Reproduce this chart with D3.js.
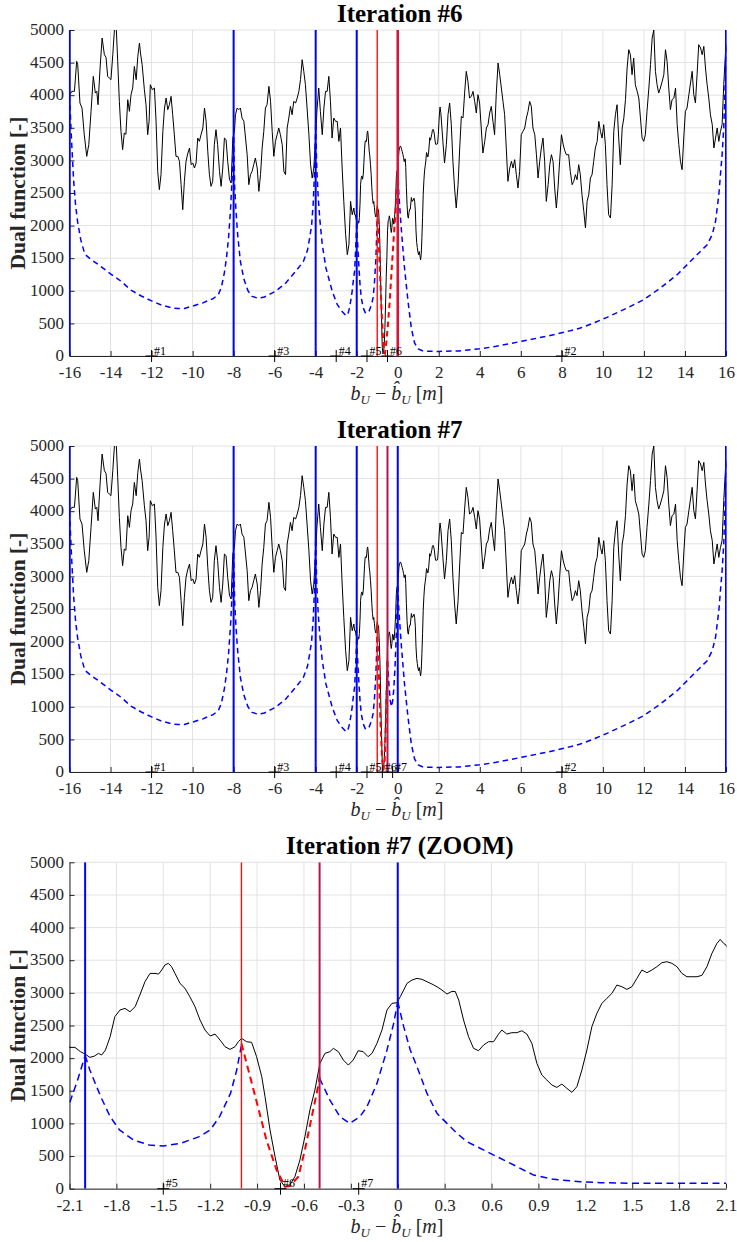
<!DOCTYPE html>
<html><head><meta charset="utf-8">
<script src="https://cdn.jsdelivr.net/npm/d3@7"></script>
<style>
html,body{margin:0;padding:0;background:#fff;}
svg{display:block;}
</style></head><body>
<svg id="chart" width="737" height="1242" font-family="Liberation Serif"></svg>
<script>
// ---- axis ticks ----
const yTicks = [0, 500, 1000, 1500, 2000, 2500, 3000, 3500, 4000, 4500, 5000];
const xTicksWide = [-16, -14, -12, -10, -8, -6, -4, -2, 0, 2, 4, 6, 8, 10, 12, 14, 16];
const xTicksZoom = [-2.1, -1.8, -1.5, -1.2, -0.9, -0.6, -0.3, 0, 0.3, 0.6, 0.9, 1.2, 1.5, 1.8, 2.1];

// ---- dual function, coarse samples left of the zoom window ----
const dualLeft = [
  [-16,4008],[-15.98,4008],[-15.89,4059],[-15.76,4060],[-15.65,4519],[-15.6,4470],[-15.49,3880],[-15.39,3803],
  [-15.28,3394],[-15.16,3062],[-15.06,3241],[-14.95,3752],[-14.84,4289],[-14.74,4033],[-14.67,4060],[-14.61,3854],
  [-14.51,4417],[-14.41,4877],[-14.3,4621],[-14.22,4580],[-14.14,4289],[-14.06,4263],[-13.98,4238],[-13.89,4621],
  [-13.79,5100],[-13.73,5100],[-13.65,4519],[-13.57,3905],[-13.49,3445],[-13.41,3164],[-13.33,3420],[-13.25,3400],
  [-13.16,3931],[-13.08,3752],[-13.0,4008],[-12.92,4110],[-12.84,4442],[-12.75,4238],[-12.67,4596],[-12.59,4800],
  [-12.54,4647],[-12.46,4468],[-12.35,4084],[-12.27,3854],[-12.19,3394],[-12.12,3599],[-12.06,4161],[-11.96,4084],
  [-11.86,4110],[-11.78,3599],[-11.7,2832],[-11.62,2551],[-11.54,2781],[-11.45,3445],[-11.37,3803],[-11.29,3957],
  [-11.21,3778],[-11.13,3854],[-11.05,3982],[-10.97,3701],[-10.89,3394],[-10.81,3062],[-10.72,3062],[-10.64,2985],
  [-10.56,2628],[-10.48,2244],[-10.4,2679],[-10.32,2985],[-10.23,3113],[-10.15,3190],[-10.07,2934],[-9.99,2960],
  [-9.91,2883],[-9.83,2960],[-9.75,3343],[-9.67,3292],[-9.59,3394],[-9.5,3497],[-9.42,3803],[-9.34,3599],
  [-9.26,3139],[-9.18,2781],[-9.1,2602],[-9.02,2679],[-8.94,3241],[-8.86,3471],[-8.78,3241],[-8.69,2832],
  [-8.61,2602],[-8.53,2883],[-8.45,3343],[-8.37,3318],[-8.29,2985],[-8.2,2704],[-8.12,2653],[-8.04,3343],
  [-7.96,3445],[-7.91,3701],[-7.83,3803],[-7.75,3778],[-7.67,3803],[-7.59,3650],[-7.5,3599],[-7.42,3343],
  [-7.34,3088],[-7.26,2628],[-7.18,2781],[-7.1,2832],[-7.02,2934],[-6.94,3036],[-6.85,2883],[-6.77,2525],
  [-6.69,2781],[-6.61,3190],[-6.53,3445],[-6.45,3803],[-6.37,3854],[-6.28,4136],[-6.2,3905],[-6.12,3445],
  [-6.04,3062],[-5.96,3292],[-5.88,3394],[-5.8,3497],[-5.72,3394],[-5.63,3241],[-5.55,2832],[-5.47,2781],
  [-5.39,3497],[-5.31,3650],[-5.23,3829],[-5.15,3701],[-5.07,3905],[-4.98,3880],[-4.9,3957],[-4.82,4059],
  [-4.74,4238],[-4.66,4545],[-4.58,4366],[-4.5,4161],[-4.42,3803],[-4.33,3394],[-4.25,2934],[-4.17,2730],
  [-4.09,2883],[-4.01,3343],[-3.93,3803],[-3.85,4110],[-3.77,3752],[-3.68,3394],[-3.6,3803],[-3.52,4059],
  [-3.44,4059],[-3.36,4289],[-3.28,3905],[-3.2,3343],[-3.12,3650],[-3.03,3599],[-2.95,3599],[-2.87,3292],
  [-2.79,3497],[-2.71,2883],[-2.63,2372],[-2.54,1861],[-2.46,1554],[-2.38,1707],[-2.3,2372],[-2.22,2167],
  [-2.14,2270]
];

// ---- dual function, fine samples on [-2.1, 2.1] ----
const dualFine = [
  [-2.1,2165],[-2.065,2165],[-2.03,2099],[-2.0,2063],[-1.97,2012],[-1.94,2032],[-1.915,2073],[-1.894,2048],
  [-1.87,2124],[-1.84,2328],[-1.81,2635],[-1.777,2737],[-1.745,2762],[-1.713,2711],[-1.68,2788],[-1.65,2966],
  [-1.617,3171],[-1.585,3298],[-1.553,3298],[-1.53,3288],[-1.51,3350],[-1.49,3426],[-1.468,3452],[-1.447,3401],
  [-1.425,3298],[-1.393,3145],[-1.361,3069],[-1.33,2941],[-1.297,2788],[-1.265,2584],[-1.233,2430],[-1.2,2339],
  [-1.169,2369],[-1.137,2277],[-1.105,2175],[-1.073,2134],[-1.041,2175],[-1.02,2252],[-0.999,2303],[-0.967,2252],
  [-0.935,2242],[-0.903,2022],[-0.87,1716],[-0.849,1409],[-0.817,899],[-0.785,490],[-0.754,133],[-0.722,31],
  [-0.69,56],[-0.658,184],[-0.626,439],[-0.594,797],[-0.562,1205],[-0.53,1511],[-0.498,1920],[-0.466,2073],
  [-0.434,2099],[-0.412,2150],[-0.38,2099],[-0.348,1971],[-0.316,1894],[-0.285,1971],[-0.253,2114],[-0.221,2099],
  [-0.19,2022],[-0.165,2073],[-0.133,2226],[-0.101,2430],[-0.069,2737],[-0.037,2839],[-0.005,2849],[0.016,2941],
  [0.038,3043],[0.059,3145],[0.091,3196],[0.123,3222],[0.155,3207],[0.187,3171],[0.219,3135],[0.251,3094],
  [0.283,3043],[0.315,2982],[0.347,3023],[0.368,3020],[0.39,2890],[0.421,2584],[0.453,2328],[0.485,2150],
  [0.517,2114],[0.549,2201],[0.581,2252],[0.613,2252],[0.645,2369],[0.666,2430],[0.698,2369],[0.73,2390],
  [0.762,2390],[0.794,2420],[0.826,2369],[0.858,2226],[0.89,1920],[0.922,1741],[0.954,1665],[0.986,1588],
  [1.018,1552],[1.05,1603],[1.082,1537],[1.114,1476],[1.146,1562],[1.178,1818],[1.21,2124],[1.242,2482],
  [1.274,2686],[1.306,2839],[1.338,2916],[1.37,2992],[1.402,3120],[1.434,3094],[1.466,3053],[1.498,3094],
  [1.53,3222],[1.562,3350],[1.594,3309],[1.626,3350],[1.658,3401],[1.69,3462],[1.722,3477],[1.754,3452],
  [1.786,3401],[1.818,3298],[1.85,3247],[1.882,3247],[1.914,3247],[1.946,3268],[1.978,3401],[2.01,3605],
  [2.042,3758],[2.063,3819],[2.085,3758],[2.1,3732]
];

// ---- dual function, coarse samples right of the zoom window ----
const dualRight = [
  [2.2,3292],[2.28,2960],[2.37,3241],[2.45,3701],[2.53,3880],[2.61,3548],[2.69,2985],[2.77,2576],
  [2.85,2270],[2.94,2628],[3.02,3190],[3.1,3675],[3.18,3650],[3.26,4033],[3.34,4366],[3.42,4212],
  [3.5,3957],[3.59,3982],[3.67,4059],[3.75,3905],[3.83,3727],[3.91,4008],[3.99,3880],[4.07,3497],
  [4.15,3113],[4.24,3292],[4.32,3497],[4.4,3548],[4.48,3727],[4.56,3829],[4.64,3599],[4.72,3394],
  [4.8,4008],[4.89,4494],[4.97,4315],[5.05,4110],[5.13,3905],[5.21,3701],[5.29,3190],[5.37,2679],
  [5.46,2883],[5.54,2985],[5.62,2883],[5.7,3011],[5.78,2781],[5.86,2576],[5.94,2832],[6.02,3394],
  [6.1,3445],[6.19,3497],[6.27,3650],[6.35,3752],[6.43,3905],[6.51,3829],[6.59,3497],[6.68,3394],
  [6.76,3088],[6.84,2730],[6.92,2985],[7.0,3190],[7.08,3343],[7.16,2985],[7.24,2372],[7.33,2628],
  [7.41,2934],[7.49,3088],[7.57,2985],[7.65,2576],[7.73,2270],[7.81,2576],[7.89,2985],[7.98,3394],
  [8.06,3250],[8.14,3150],[8.22,3088],[8.33,3088],[8.41,2832],[8.5,2628],[8.58,2679],[8.66,2781],
  [8.74,2704],[8.82,2934],[8.9,2781],[8.98,2474],[9.07,2219],[9.15,1963],[9.23,2372],[9.31,2474],
  [9.39,2730],[9.47,2781],[9.55,2985],[9.63,3190],[9.72,3292],[9.8,3599],[9.88,3445],[9.96,3343],
  [10.04,3548],[10.12,3241],[10.2,2628],[10.28,2167],[10.37,2116],[10.45,2628],[10.53,3445],[10.61,3701],
  [10.69,3854],[10.77,3343],[10.85,2934],[10.94,3497],[11.02,3650],[11.1,3931],[11.18,4417],[11.26,4698],
  [11.34,4621],[11.42,4315],[11.5,4570],[11.58,4161],[11.67,4059],[11.75,3957],[11.83,3650],[11.91,3343],
  [11.99,3292],[12.07,3394],[12.15,3752],[12.24,4110],[12.32,4468],[12.4,4877],[12.48,5000],[12.56,4366],
  [12.64,4161],[12.72,4033],[12.8,4110],[12.89,4212],[12.97,4315],[13.05,4698],[13.13,4519],[13.21,4110],
  [13.29,3778],[13.37,3931],[13.46,3957],[13.54,4110],[13.62,3548],[13.7,3241],[13.78,2985],[13.86,2858],
  [13.94,3343],[14.02,3752],[14.1,3803],[14.19,4008],[14.27,4187],[14.35,4366],[14.43,4008],[14.51,3880],
  [14.59,4315],[14.67,4775],[14.76,4724],[14.84,4621],[14.92,4749],[15.0,4417],[15.08,4161],[15.16,3957],
  [15.24,3701],[15.33,3548],[15.41,3190],[15.49,3343],[15.57,3497],[15.65,3292],[15.73,3445],[15.81,3548],
  [15.89,4161],[15.97,4621],[16.0,4775]
];

const dual = dualLeft.concat(dualFine, dualRight);

// ---- lower-bound pieces, one per interval ----
const boundA = [[-16,4000],[-15.9,3300],[-15.8,2700],[-15.7,2300],[-15.6,2050],[-15.45,1780],[-15.25,1560],
  [-14.95,1480],[-14.5,1380],[-14,1260],[-13.5,1150],[-13,1010],[-12.5,920],[-12,845],[-11.5,780],[-11,737],
  [-10.7,728],[-10.4,730],[-10,765],[-9.5,815],[-9,880],[-8.75,940],[-8.6,1050],[-8.45,1280],[-8.35,1500],
  [-8.25,1800],[-8.15,2250],[-8.07,2750],[-8,3360]];
const boundB = [[-8,3360],[-7.95,2600],[-7.88,2200],[-7.8,1850],[-7.67,1450],[-7.5,1180],[-7.3,1000],
  [-7.1,915],[-6.8,885],[-6.5,905],[-6.0,985],[-5.5,1105],[-5.0,1290],[-4.6,1450],[-4.4,1620],[-4.3,1800],
  [-4.2,2000],[-4.12,2350],[-4.06,2800],[-4.0,3550]];
const boundC = [[-4,3550],[-3.95,2900],[-3.88,2450],[-3.8,2100],[-3.68,1710],[-3.5,1350],[-3.2,1000],
  [-2.95,790],[-2.7,680],[-2.55,630],[-2.45,625],[-2.38,700],[-2.3,830],[-2.22,1000],[-2.15,1200],
  [-2.1,1310],[-2.05,1650],[-2.0,2040]];
const boundD = [[-2.0,2040],[-1.97,1818],[-1.9,1409],[-1.84,1103],[-1.78,900],[-1.69,745],[-1.59,669],
  [-1.5,654],[-1.39,694],[-1.27,797],[-1.2,899],[-1.14,1103],[-1.07,1460],[-1.03,1818],[-1.0,2200]];
const boundIter6 = [[-1,2250],[-0.92,1700],[-0.85,1150],[-0.78,650],[-0.72,280],[-0.66,60],[-0.62,40],
  [-0.56,200],[-0.48,480],[-0.4,800],[-0.3,1300],[-0.2,1800],[-0.1,2250],[0,2850]];
const boundIter7 = [[-1,2226],[-0.9,1307],[-0.84,745],[-0.775,286],[-0.72,31],[-0.69,41],[-0.636,184],
  [-0.594,592],[-0.55,1103],[-0.51,1562],[-0.5,1716]];
const boundF = [[-0.5,1690],[-0.434,1358],[-0.37,1103],[-0.306,1001],[-0.242,1103],[-0.197,1256],
  [-0.133,1613],[-0.069,2124],[-0.026,2533],[0,2864]];
const boundEWide = [[0,2850],[0.05,2500],[0.17,1960],[0.33,1350],[0.5,840],[0.66,430],[0.82,200],[1.0,110],
  [1.2,80],[1.5,72],[2,70],[3,78],[4,110],[4.8,148],[6.03,225],[7.24,302],[8.2,370],[8.9,429],[9.55,506],
  [10.2,593],[11.18,736],[11.99,864],[12.8,1043],[13.62,1247],[14.43,1503],[15.08,1707],[15.33,1861],
  [15.49,2065],[15.65,2474],[15.81,3088],[15.89,3497],[15.97,4263],[16,4775]];
const boundEZoom = [[0,2864],[0.038,2482],[0.08,2124],[0.123,1869],[0.187,1460],[0.251,1154],[0.315,1001],
  [0.379,848],[0.443,720],[0.592,541],[0.7,414],[0.869,209],[0.997,143],[1.168,107],[1.296,92],[1.509,82],
  [2.1,82]];

// ---- interval boundaries (vertical lines) ----
const blueLines6 = [-16, -8, -4, -2, 16];
const redLines6 = [-1];
const newLines6 = [0];
const blueLines7 = [-16, -8, -4, -2, 0, 16];
const redLines7 = [-1];
const newLines7 = [-0.5];

// ---- sample markers on the axis ----
const samples6 = [[1,-12],[2,8],[3,-6],[4,-3],[5,-1.5],[6,-0.5]];
const samples7 = [[1,-12],[2,8],[3,-6],[4,-3],[5,-1.5],[6,-0.75],[7,-0.25]];

const panels = [
  {title: "Iteration #6", top: 30, bottom: 356, xDomain: [-16, 16], xTicks: xTicksWide,
   blue: [boundA, boundB, boundC, boundD, boundEWide], red: [boundIter6],
   blueLines: blueLines6, redLines: redLines6, newLines: newLines6, newColor: "#d3173c", newWidth: 2.6,
   samples: samples6, dash: "5.5,4"},
  {title: "Iteration #7", top: 446, bottom: 772, xDomain: [-16, 16], xTicks: xTicksWide,
   blue: [boundA, boundB, boundC, boundD, boundF, boundEWide], red: [boundIter7],
   blueLines: blueLines7, redLines: redLines7, newLines: newLines7, newColor: "#b5164f", newWidth: 2,
   samples: samples7, dash: "5.5,4"},
  {title: "Iteration #7 (ZOOM)", top: 862.3, bottom: 1188.7, xDomain: [-2.1, 2.1], xTicks: xTicksZoom,
   blue: [boundC, boundD, boundF, boundEZoom], red: [boundIter7],
   blueLines: blueLines7, redLines: redLines7, newLines: newLines7, newColor: "#b5164f", newWidth: 2,
   samples: samples7, dash: "7,4.5"}
];

const L = 69.5, R = 726;
const FONT = "Liberation Serif";
const svg = d3.select("#chart");
const axisColor = "#262626";
const gridColor = "#e2e2e2";

panels.forEach((p, i) => {
  const g = svg.append("g").attr("font-family", FONT);
  const x = d3.scaleLinear().domain(p.xDomain).range([L, R]);
  const y = d3.scaleLinear().domain([0, 5000]).range([p.bottom, p.top]);
  const clipId = "clip" + i;
  g.append("clipPath").attr("id", clipId).append("rect")
    .attr("x", L - 0.6).attr("y", p.top).attr("width", R - L + 1.2).attr("height", p.bottom - p.top);

  // grid
  g.append("g").selectAll("line").data(p.xTicks).join("line")
    .attr("x1", d => x(d)).attr("x2", d => x(d)).attr("y1", p.top).attr("y2", p.bottom)
    .attr("stroke", gridColor).attr("stroke-width", 1);
  g.append("g").selectAll("line").data(yTicks).join("line")
    .attr("x1", L).attr("x2", R).attr("y1", d => y(d)).attr("y2", d => y(d))
    .attr("stroke", gridColor).attr("stroke-width", 1);

  // axes
  const xAxis = d3.axisBottom(x).tickValues(p.xTicks).tickFormat(d => String(d))
    .tickSizeInner(-5).tickSizeOuter(0).tickPadding(10);
  const yAxis = d3.axisLeft(y).tickValues(yTicks).tickFormat(d => String(d))
    .tickSizeInner(-5).tickSizeOuter(0).tickPadding(5.5);
  const gx = g.append("g").attr("transform", `translate(0,${p.bottom})`).call(xAxis);
  const gy = g.append("g").attr("transform", `translate(${L},0)`).call(yAxis);
  [gx, gy].forEach(a => {
    a.attr("font-family", FONT).attr("font-size", 17);
    a.select(".domain").attr("stroke", axisColor).attr("stroke-width", 1);
    a.selectAll(".tick line").attr("stroke", axisColor);
    a.selectAll(".tick text").attr("fill", axisColor).attr("font-family", FONT).attr("font-size", 17);
  });
  gy.selectAll(".tick text").attr("dy", "0.28em");

  const plot = g.append("g").attr("clip-path", `url(#${clipId})`);
  const line = d3.line().x(d => x(d[0])).y(d => y(d[1]));

  // dual function
  plot.append("path").datum(dual).attr("d", line)
    .attr("fill", "none").attr("stroke", "#000").attr("stroke-width", 1).attr("stroke-linejoin", "round");

  // lower bounds
  p.blue.forEach(seg => plot.append("path").datum(seg).attr("d", line)
    .attr("fill", "none").attr("stroke", "#0000ff").attr("stroke-width", 1.5)
    .attr("stroke-dasharray", p.dash));
  p.red.forEach(seg => plot.append("path").datum(seg).attr("d", line)
    .attr("fill", "none").attr("stroke", "#ff0000").attr("stroke-width", 2)
    .attr("stroke-dasharray", p.dash));

  // interval boundaries
  const vlines = (vals, color, w) => plot.append("g").selectAll("line").data(vals).join("line")
    .attr("x1", d => x(d)).attr("x2", d => x(d)).attr("y1", p.top).attr("y2", p.bottom)
    .attr("stroke", color).attr("stroke-width", w);
  vlines(p.blueLines, "#0000ff", 2);
  vlines(p.redLines, "#ff1010", 1.4);
  vlines(p.newLines, p.newColor, p.newWidth);

  // sample markers
  const vis = p.samples.filter(s => s[1] >= p.xDomain[0] && s[1] <= p.xDomain[1]);
  const sm = g.append("g");
  sm.selectAll("path").data(vis).join("path")
    .attr("d", s => `M${x(s[1]) - 6},${p.bottom}H${x(s[1]) + 6}M${x(s[1])},${p.bottom - 6}V${p.bottom + 6}`)
    .attr("stroke", "#000").attr("stroke-width", 1).attr("fill", "none");
  sm.selectAll("text").data(vis).join("text")
    .attr("x", s => x(s[1]) + 2.5).attr("y", p.bottom - 1.5)
    .attr("font-family", FONT).attr("font-size", 12).attr("fill", "#000").text(s => "#" + s[0]);

  // title
  g.append("text").attr("x", (L + R) / 2 + 2).attr("y", p.top - 8.5)
    .attr("text-anchor", "middle").attr("font-family", FONT).attr("font-weight", "bold")
    .attr("font-size", 25).attr("fill", "#000").text(p.title);

  // y label
  g.append("text").attr("transform", `translate(24.5,${(p.top + p.bottom) / 2}) rotate(-90)`)
    .attr("text-anchor", "middle").attr("font-family", FONT).attr("font-weight", "bold")
    .attr("font-size", 21.5).attr("fill", axisColor).text("Dual function [-]");

  // x label
  const xl = g.append("text").attr("x", 397).attr("y", p.bottom + 44)
    .attr("text-anchor", "middle").attr("font-family", FONT).attr("font-size", 20).attr("fill", axisColor);
  xl.append("tspan").attr("font-style", "italic").text("b");
  xl.append("tspan").attr("font-style", "italic").attr("font-size", 13).attr("dy", 4).text("U");
  xl.append("tspan").attr("dy", -4).text(" \u2212 ");
  xl.append("tspan").attr("font-style", "italic").text("b\u0302");
  xl.append("tspan").attr("font-style", "italic").attr("font-size", 13).attr("dy", 4).text("U");
  xl.append("tspan").attr("dy", -4).text(" [");
  xl.append("tspan").attr("font-style", "italic").text("m");
  xl.append("tspan").text("]");
});
</script>
</body></html>
